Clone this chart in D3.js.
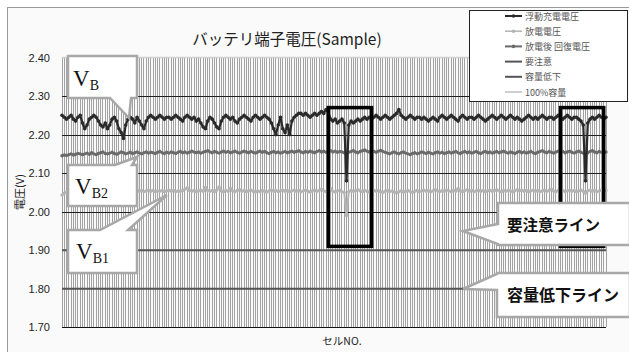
<!DOCTYPE html>
<html>
<head>
<meta charset="utf-8">
<script src="https://cdn.jsdelivr.net/npm/d3@7"></script>
<style>
  body { margin: 0; background: #fff; }
  svg { display: block; }
</style>
</head>
<body>
<div id="chart"></div>
<script>
// Series names (legend order).
const seriesNames = ["浮動充電電圧", "放電電圧", "放電後 回復電圧", "要注意", "容量低下", "100%容量"];

// Y-axis tick values.
const yTicks = [1.70, 1.80, 1.90, 2.00, 2.10, 2.20, 2.30, 2.40];
const gridTicks = [2.00, 2.10, 2.20, 2.30];

// Float charge voltage per cell (VB).
const vb = [
  2.25,2.245,2.24,2.245,2.25,2.24,2.235,2.245,2.25,2.23,2.215,2.225,2.24,2.245,2.25,2.245,2.235,2.225,2.22,2.23,
  2.215,2.225,2.24,2.245,2.235,2.215,2.205,2.19,2.225,2.24,2.245,2.24,2.23,2.245,2.235,2.225,2.215,2.235,2.245,2.25,
  2.245,2.24,2.245,2.25,2.245,2.24,2.245,2.245,2.24,2.245,2.25,2.245,2.24,2.235,2.245,2.25,2.245,2.24,2.245,2.235,
  2.24,2.23,2.22,2.215,2.235,2.245,2.24,2.23,2.22,2.215,2.235,2.245,2.25,2.245,2.24,2.245,2.235,2.23,2.24,2.245,
  2.25,2.245,2.24,2.235,2.245,2.25,2.245,2.24,2.245,2.25,2.245,2.24,2.23,2.215,2.2,2.225,2.245,2.215,2.205,2.225,
  2.2,2.235,2.245,2.25,2.255,2.255,2.25,2.255,2.25,2.245,2.25,2.255,2.25,2.255,2.26,2.255,2.265,2.26,2.24,2.235,
  2.24,2.23,2.235,2.24,2.23,2.08,2.225,2.235,2.23,2.235,2.24,2.235,2.24,2.245,2.24,2.245,2.24,2.245,2.25,2.245,
  2.24,2.245,2.25,2.245,2.24,2.245,2.25,2.255,2.265,2.25,2.245,2.24,2.245,2.25,2.245,2.24,2.245,2.245,2.24,2.245,
  2.24,2.235,2.24,2.245,2.24,2.235,2.245,2.25,2.245,2.24,2.245,2.25,2.245,2.24,2.235,2.245,2.25,2.245,2.24,2.245,
  2.245,2.24,2.245,2.25,2.245,2.24,2.235,2.24,2.245,2.25,2.245,2.24,2.245,2.25,2.245,2.24,2.245,2.25,2.245,2.24,
  2.245,2.24,2.235,2.24,2.245,2.25,2.245,2.24,2.245,2.24,2.245,2.25,2.245,2.24,2.245,2.245,2.24,2.245,2.25,2.245,
  2.24,2.245,2.25,2.245,2.24,2.245,2.245,2.24,2.235,2.225,2.08,2.23,2.24,2.245,2.24,2.245,2.25,2.245,2.24,2.245
];

// Discharge voltage per cell (VB1).
const vb1 = [
  2.043,2.048,2.05,2.052,2.05,2.051,2.053,2.05,2.052,2.054,2.051,2.053,2.05,2.052,2.054,2.051,2.053,2.055,2.052,2.054,
  2.052,2.054,2.051,2.053,2.055,2.052,2.054,2.056,2.053,2.051,2.054,2.052,2.054,2.056,2.053,2.055,2.052,2.054,2.056,2.053,
  2.055,2.052,2.054,2.053,2.055,2.052,2.054,2.056,2.053,2.055,2.052,2.054,2.053,2.055,2.058,2.062,2.055,2.053,2.055,2.052,
  2.054,2.056,2.053,2.063,2.055,2.053,2.055,2.052,2.056,2.064,2.054,2.052,2.055,2.053,2.061,2.054,2.052,2.055,2.057,2.053,
  2.055,2.052,2.054,2.056,2.053,2.051,2.054,2.052,2.055,2.053,2.051,2.054,2.056,2.053,2.055,2.052,2.054,2.056,2.053,2.055,
  2.052,2.054,2.056,2.053,2.055,2.052,2.054,2.056,2.053,2.051,2.054,2.056,2.053,2.055,2.058,2.054,2.052,2.055,2.06,2.053,
  2.051,2.054,2.056,2.052,2.05,1.99,2.052,2.055,2.053,2.055,2.057,2.054,2.052,2.055,2.053,2.051,2.054,2.056,2.053,2.055,
  2.052,2.05,2.053,2.055,2.052,2.054,2.051,2.049,2.052,2.054,2.051,2.053,2.055,2.052,2.05,2.053,2.055,2.052,2.054,2.056,
  2.053,2.055,2.052,2.054,2.057,2.054,2.052,2.055,2.053,2.056,2.054,2.052,2.055,2.053,2.06,2.054,2.052,2.055,2.057,2.053,
  2.055,2.052,2.054,2.056,2.053,2.055,2.052,2.054,2.056,2.053,2.055,2.057,2.054,2.052,2.055,2.053,2.056,2.054,2.052,2.055,
  2.057,2.054,2.056,2.053,2.055,2.052,2.054,2.056,2.053,2.055,2.052,2.054,2.056,2.053,2.055,2.058,2.054,2.052,2.055,2.053,
  2.055,2.052,2.054,2.056,2.053,2.055,2.052,2.054,2.056,2.053,2.048,2.054,2.056,2.053,2.055,2.052,2.054,2.056,2.053,2.055
];

// Recovery voltage after discharge per cell (VB2).
const vb2 = [
  2.145,2.147,2.146,2.148,2.15,2.147,2.149,2.151,2.15,2.148,2.15,2.152,2.149,2.153,2.15,2.148,2.151,2.153,2.155,2.151,
  2.15,2.152,2.154,2.151,2.149,2.152,2.155,2.153,2.15,2.152,2.154,2.151,2.153,2.155,2.152,2.15,2.153,2.155,2.152,2.154,
  2.153,2.151,2.154,2.156,2.153,2.151,2.154,2.152,2.155,2.153,2.151,2.154,2.156,2.153,2.155,2.152,2.154,2.157,2.155,2.153,
  2.155,2.152,2.154,2.156,2.158,2.155,2.153,2.156,2.154,2.152,2.155,2.157,2.154,2.156,2.153,2.155,2.157,2.154,2.152,2.155,
  2.157,2.155,2.153,2.156,2.154,2.152,2.155,2.157,2.154,2.156,2.153,2.151,2.154,2.156,2.153,2.155,2.152,2.154,2.156,2.153,
  2.155,2.157,2.154,2.156,2.158,2.155,2.153,2.156,2.154,2.157,2.155,2.153,2.156,2.158,2.155,2.157,2.154,2.156,2.158,2.155,
  2.157,2.154,2.156,2.155,2.153,2.15,2.154,2.156,2.158,2.155,2.153,2.156,2.158,2.16,2.157,2.155,2.158,2.156,2.154,2.157,
  2.159,2.156,2.154,2.152,2.15,2.153,2.155,2.152,2.15,2.153,2.155,2.152,2.15,2.148,2.151,2.153,2.15,2.152,2.155,2.153,
  2.151,2.154,2.152,2.15,2.153,2.155,2.152,2.154,2.151,2.153,2.155,2.152,2.154,2.156,2.153,2.151,2.154,2.156,2.153,2.155,
  2.152,2.154,2.156,2.153,2.151,2.154,2.156,2.153,2.155,2.152,2.154,2.156,2.153,2.155,2.157,2.154,2.152,2.155,2.153,2.151,
  2.154,2.156,2.153,2.155,2.152,2.154,2.156,2.153,2.151,2.154,2.156,2.158,2.155,2.153,2.156,2.154,2.152,2.155,2.157,2.154,
  2.156,2.153,2.155,2.157,2.154,2.152,2.155,2.157,2.154,2.152,2.148,2.153,2.156,2.158,2.155,2.153,2.156,2.154,2.152,2.155
];

// Constant reference lines.
const cautionLevel = 1.90;
const lowCapLevel = 1.80;
const fullCapLevel = 2.40;

// Highlighted cell ranges (black boxes) and their voltage span.
const highlightCells = [[117, 136], [219, 238]];
const highlightSpan = [1.91, 2.27];

// Colour codes.
const colVB = "#2a2a2a";
const colVB1 = "#b4b4b4";
const colVB2 = "#6a6a6a";
const colRef = "#555";

const W = 629, H = 352;
const plot = {left: 62, right: 606, top: 57.5, bottom: 327.3};
const N = vb.length;

var svg = d3.select("#chart")
  .append("svg")
    .attr("width", W)
    .attr("height", H);

// Chart background and border.
svg.append("rect")
  .attr("x", 7.5).attr("y", 7.5)
  .attr("width", W - 7).attr("height", H)
  .attr("fill", "#fafafa")
  .attr("stroke", "#9a9a9a");

var x = d3.scaleLinear()
  .domain([0, N - 1])
  .range([plot.left, plot.right]);

var y = d3.scaleLinear()
  .domain([1.70, 2.40])
  .range([plot.bottom, plot.top]);

// Vertical cell gridlines.
svg.append("g")
  .attr("shape-rendering", "crispEdges")
  .selectAll("line")
  .data(d3.range(N))
  .join("line")
    .attr("x1", d => x(d)).attr("x2", d => x(d))
    .attr("y1", y(2.40)).attr("y2", y(1.70))
    .attr("stroke", "#a2a2a2")
    .attr("stroke-width", 1);

// Horizontal gridlines.
svg.append("g")
  .selectAll("line")
  .data(gridTicks)
  .join("line")
    .attr("x1", plot.left).attr("x2", plot.right)
    .attr("y1", d => Math.round(y(d)) + 0.5).attr("y2", d => Math.round(y(d)) + 0.5)
    .attr("stroke", "#1e1e1e")
    .attr("stroke-width", 1);

// Y axis.
svg.append("g")
  .attr("transform", "translate(" + plot.left + ",0)")
  .call(d3.axisLeft(y).tickValues(yTicks).tickFormat(d3.format(".2f")).tickSize(0).tickPadding(12))
  .call(g => g.select(".domain").remove())
  .selectAll("text")
    .style("font-family", "'Liberation Sans Narrow', 'Liberation Sans', sans-serif")
    .style("font-size", "11px")
    .style("fill", "#222");

// X axis baseline.
svg.append("line")
  .attr("x1", plot.left).attr("x2", plot.right)
  .attr("y1", Math.round(y(1.70)) + 0.5).attr("y2", Math.round(y(1.70)) + 0.5)
  .attr("stroke", "#111");

// Reference lines.
const refLines = [
  {v: fullCapLevel, c: "#cfcfcf", w: 1.5},
  {v: cautionLevel, c: colRef, w: 2},
  {v: lowCapLevel, c: colRef, w: 2}
];
svg.append("g")
  .selectAll("path")
  .data(refLines)
  .join("path")
    .attr("d", r => d3.line().x((d, i) => x(i)).y(() => y(r.v))(d3.range(N)))
    .attr("fill", "none")
    .attr("stroke", r => r.c)
    .attr("stroke-width", r => r.w);

// Data series.
const series = [
  {values: vb1, c: colVB1, w: 2, r: 1.7},
  {values: vb2, c: colVB2, w: 1.9, r: 1.7},
  {values: vb, c: colVB, w: 2.2, r: 1.8}
];
const lineGen = d3.line().x((d, i) => x(i)).y(d => y(d));
series.forEach(s => {
  svg.append("path")
    .datum(s.values)
    .attr("d", lineGen)
    .attr("fill", "none")
    .attr("stroke", s.c)
    .attr("stroke-width", s.w)
    .attr("stroke-linejoin", "round");
  svg.append("g")
    .selectAll("circle")
    .data(s.values)
    .join("circle")
      .attr("cx", (d, i) => x(i))
      .attr("cy", d => y(d))
      .attr("r", s.r)
      .attr("fill", s.c);
});

// Black highlight boxes.
svg.append("g")
  .selectAll("rect")
  .data(highlightCells)
  .join("rect")
    .attr("x", d => x(d[0]))
    .attr("y", y(highlightSpan[1]))
    .attr("width", d => x(d[1]) - x(d[0]))
    .attr("height", y(highlightSpan[0]) - y(highlightSpan[1]))
    .attr("fill", "none")
    .attr("stroke", "#000")
    .attr("stroke-width", 3.5);

// Callouts: box with a pointer tail.
function callout(bx, by, bw, bh, tail) {
  const p = [];
  const x0 = bx, y0 = by, x1 = bx + bw, y1 = by + bh;
  if (tail.side === "bottom") {
    p.push([x0, y0], [x1, y0], [x1, y1], [tail.b, y1], tail.tip, [tail.a, y1], [x0, y1]);
  } else if (tail.side === "top") {
    p.push([x0, y0], [tail.a, y0], tail.tip, [tail.b, y0], [x1, y0], [x1, y1], [x0, y1]);
  } else {
    p.push([x0, y0], [x1, y0], [x1, y1], [x0, y1], [x0, tail.b], tail.tip, [x0, tail.a]);
  }
  svg.append("path")
    .attr("d", "M" + p.map(q => q.join(",")).join("L") + "Z")
    .attr("fill", "#fff")
    .attr("stroke", "#a8a8a8")
    .attr("stroke-width", 2.5)
    .attr("stroke-linejoin", "miter");
}

function vLabel(tx, ty, sub) {
  const t = svg.append("text")
    .attr("x", tx).attr("y", ty)
    .style("font-family", "'Liberation Serif', 'DejaVu Serif', serif")
    .style("fill", "#111");
  t.append("tspan").style("font-size", "23px").text("V");
  t.append("tspan").style("font-size", "14px").attr("dy", 4).text(sub);
}

callout(68, 56, 69, 42, {side: "bottom", a: 110, b: 131, tip: [129, 118]});
vLabel(73, 86, "B");
callout(68, 165, 69, 41, {side: "top", a: 115, b: 132, tip: [137, 157]});
vLabel(75, 194, "B2");
callout(68, 230, 69, 43, {side: "top", a: 100, b: 128, tip: [167, 195]});
vLabel(76, 259, "B1");

callout(498, 203, 132, 42, {side: "left", a: 224, b: 244, tip: [463, 231]});
callout(497, 273, 133, 44, {side: "left", a: 274, b: 290, tip: [463, 289]});

svg.append("text")
  .attr("x", 507).attr("y", 231)
  .style("font-family", "'Noto Sans CJK JP', sans-serif")
  .style("font-size", "15.5px")
  .style("font-weight", "700")
  .style("fill", "#111")
  .text("要注意ライン");

svg.append("text")
  .attr("x", 507).attr("y", 301)
  .style("font-family", "'Noto Sans CJK JP', sans-serif")
  .style("font-size", "16px")
  .style("font-weight", "700")
  .style("fill", "#111")
  .text("容量低下ライン");

// Title.
svg.append("text")
  .attr("x", 287).attr("y", 45)
  .attr("text-anchor", "middle")
  .style("font-family", "'Noto Sans CJK JP', sans-serif")
  .style("font-size", "15.5px")
  .style("fill", "#222")
  .text("バッテリ端子電圧(Sample)");

// Axis titles.
svg.append("text")
  .attr("transform", "translate(24,192) rotate(-90)")
  .attr("text-anchor", "middle")
  .style("font-family", "'Noto Sans CJK JP', sans-serif")
  .style("font-size", "11px")
  .style("fill", "#222")
  .text("電圧(V)");

svg.append("text")
  .attr("x", 342).attr("y", 345)
  .attr("text-anchor", "middle")
  .style("font-family", "'Noto Sans CJK JP', sans-serif")
  .style("font-size", "10.5px")
  .style("fill", "#222")
  .text("セルNO.");

// Legend.
const legendItems = [
  {name: seriesNames[0], c: colVB, w: 2, marker: true},
  {name: seriesNames[1], c: colVB1, w: 1.5, marker: true},
  {name: seriesNames[2], c: colVB2, w: 2, marker: true},
  {name: seriesNames[3], c: colRef, w: 2, marker: false},
  {name: seriesNames[4], c: colRef, w: 2, marker: false},
  {name: seriesNames[5], c: "#cfcfcf", w: 2, marker: false}
];

const legend = svg.append("g");
legend.append("rect")
  .attr("x", 469.5).attr("y", 10.5)
  .attr("width", 158).attr("height", 91)
  .attr("fill", "#fff")
  .attr("stroke", "#222");

const li = legend.selectAll("g.item")
  .data(legendItems)
  .join("g")
    .attr("class", "item")
    .attr("transform", (d, i) => "translate(0," + (16 + i * 15.2) + ")");

li.append("line")
  .attr("x1", 505).attr("x2", 522)
  .attr("stroke", d => d.c)
  .attr("stroke-width", d => d.w);

li.filter(d => d.marker).append("circle")
  .attr("cx", 513.5).attr("r", 1.8)
  .attr("fill", d => d.c);

li.append("text")
  .attr("x", 525).attr("y", 3.5)
  .style("font-family", "'Noto Sans CJK JP', sans-serif")
  .style("font-size", "9px")
  .style("fill", "#555")
  .text(d => d.name);
</script>
</body>
</html>
